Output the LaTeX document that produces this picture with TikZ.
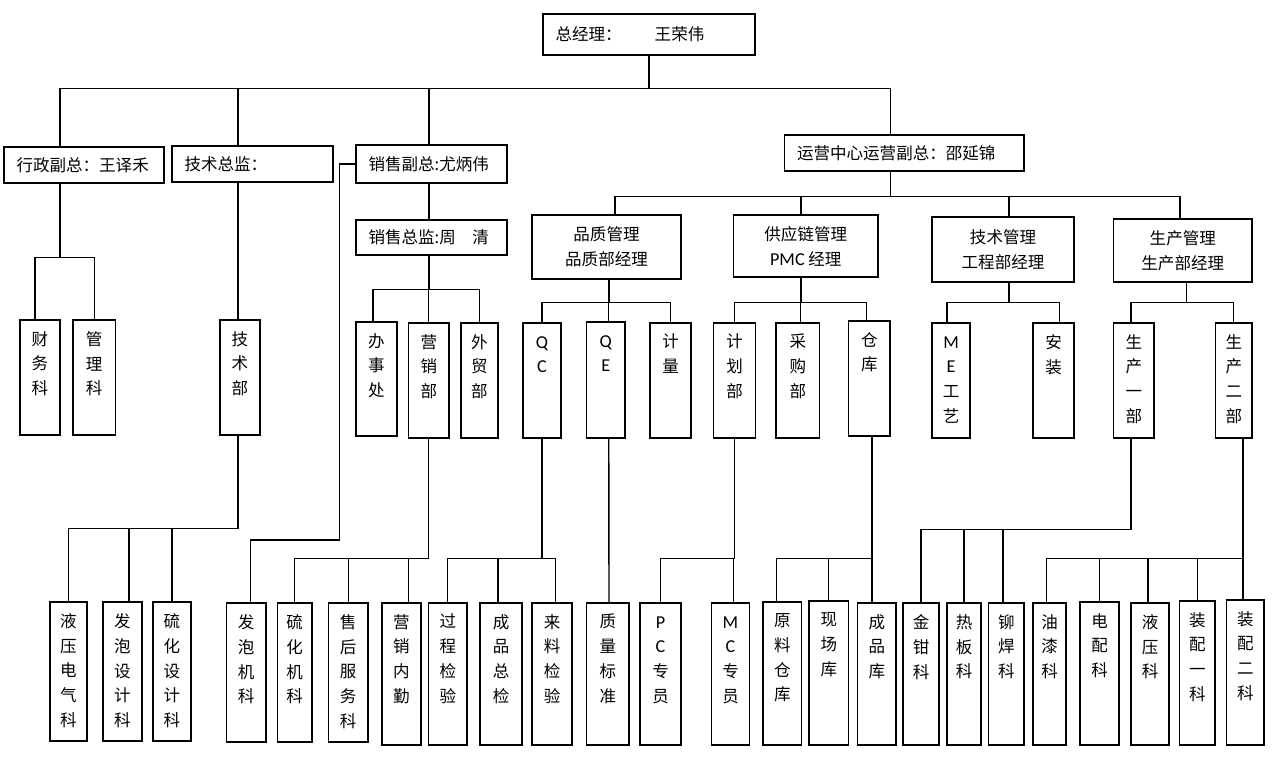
\documentclass[tikz,border=0pt]{standalone}
\usepackage{fontspec}
\newfontfamily\zhfont{Noto Sans CJK SC}
\newfontfamily\enfont{Carlito}[Scale=1.1]
\newcommand\zhsize{\fontsize{9.4}{14.2}\selectfont}
\newcommand\enl[1]{{\enfont #1}\vphantom{中}}

\begin{document}
\begin{tikzpicture}[x=0.02cm, y=-0.02cm, font=\zhfont\zhsize,
  ln/.style={line width=0.8pt},
  box/.style 2 args={rectangle, draw, line width=0.8pt, minimum width=#1*0.02cm,
              minimum height=#2*0.02cm, inner sep=0pt, align=center},
  vt/.style={anchor=north, align=center, inner sep=0pt, yshift=-0.23cm},
  ht/.style={anchor=west, inner sep=0pt, xshift=0.26cm},
  vbox/.style n args={3}{box={#1}{#2}, label={[vt]north:{#3}}},
]
\useasboundingbox (0,0) rectangle (1280,769);
% ---- top management
\node[box={212}{41}, label={[ht]west:{总经理：\quad\quad 王荣伟}}] (gm) at (649,34.5) {};
\node[box={160}{36}, label={[ht]west:{行政副总：王译禾}}] (xz) at (84,165) {};
\node[box={161}{36}, label={[ht]west:{技术总监：}}] (js) at (252.5,164) {};
\node[box={151}{38}, label={[ht]west:{销售副总:尤炳伟}}] (xs) at (431.5,164) {};
\node[box={151}{35}, label={[ht]west:{销售总监:周\quad 清}}] (xj) at (431.5,237.5) {};
\node[box={239.5}{36}, label={[ht]west:{运营中心运营副总：邵延锦}}] (yy) at (904.25,153) {};
% ---- operations managers
\node[box={149}{64}] (pz) at (606.5,247) {品质管理\\品质部经理};
\node[box={144.5}{62}] (gy) at (805.75,246) {供应链管理\\{\enfont PMC} 经理};
\node[box={142}{65}] (jg) at (1003,249.5) {技术管理\\工程部经理};
\node[box={138.5}{63}] (sc) at (1182.75,250.5) {生产管理\\生产部经理};
% ---- departments
\node[vbox={40}{115}{财\\务\\科}] (cw) at (40,377.5) {};
\node[vbox={42.5}{115}{管\\理\\科}] (gl) at (94.25,377.5) {};
\node[vbox={40}{115}{技\\术\\部}] (jsb) at (240,377.5) {};
\node[vbox={41}{114}{办\\事\\处}] (bsc) at (376.5,379) {};
\node[vbox={40.5}{115}{营\\销\\部}] (yxb) at (428.75,380.5) {};
\node[vbox={37}{115}{外\\贸\\部}] (wmb) at (479.5,380.5) {};
\node[vbox={38}{115}{\enl{Q}\\\enl{C}}] (qc) at (542,380.5) {};
\node[vbox={38.5}{116}{\enl{Q}\\\enl{E}}] (qe) at (605.75,380) {};
\node[vbox={41}{115}{计\\量}] (jl) at (670.5,380.5) {};
\node[vbox={42}{115}{计\\划\\部}] (jhb) at (734.5,380.5) {};
\node[vbox={43.5}{115}{采\\购\\部}] (cgb) at (797.75,380.5) {};
\node[vbox={41.5}{115}{仓\\库}] (ck) at (869.25,378.5) {};
\node[vbox={38}{115}{\enl{M}\\\enl{E}\\工\\艺}] (me) at (951,380.5) {};
\node[vbox={41}{115}{安\\装}] (az) at (1053.5,380.5) {};
\node[vbox={40.5}{115}{生\\产\\一\\部}] (sc1) at (1133.75,380.5) {};
\node[vbox={36.5}{115}{生\\产\\二\\部}] (sc2) at (1233.75,380.5) {};
% ---- sections
\node[vbox={37}{139}{液\\压\\电\\气\\科}] (yqdq) at (68.5,671.5) {};
\node[vbox={39}{139}{发\\泡\\设\\计\\科}] (fpsj) at (122.5,671.5) {};
\node[vbox={38}{139}{硫\\化\\设\\计\\科}] (lhsj) at (172,671.5) {};
\node[vbox={39.5}{139}{发\\泡\\机\\科}] (fpjk) at (246.25,672.5) {};
\node[vbox={34.5}{139}{硫\\化\\机\\科}] (lhjk) at (294.75,672.5) {};
\node[vbox={39.5}{139}{售\\后\\服\\务\\科}] (shfw) at (348.25,672.5) {};
\node[vbox={39}{142}{营\\销\\内\\勤}] (yxnq) at (401.5,674) {};
\node[vbox={38.5}{142}{过\\程\\检\\验}] (gcjy) at (447.75,674) {};
\node[vbox={42}{142}{成\\品\\总\\检}] (cpzj) at (501,674) {};
\node[vbox={40}{142}{来\\料\\检\\验}] (lljy) at (552,674) {};
\node[vbox={42.5}{142}{质\\量\\标\\准}] (zlbz) at (607.75,674) {};
\node[vbox={41}{142}{\enl{P}\\\enl{C}\\专\\员}] (pc) at (660.5,674) {};
\node[vbox={38}{142}{\enl{M}\\\enl{C}\\专\\员}] (mc) at (730.5,674) {};
\node[vbox={38.6}{143}{原\\料\\仓\\库}] (ylck) at (782.3,673.5) {};
\node[vbox={39.5}{144}{现\\场\\库}] (xcku) at (828.75,673) {};
\node[vbox={38.5}{142}{成\\品\\库}] (cpk) at (876.75,674) {};
\node[vbox={36}{142}{金\\钳\\科}] (jq) at (921,674) {};
\node[vbox={34}{142}{热\\板\\科}] (rb) at (964,674) {};
\node[vbox={35.4}{142}{铆\\焊\\科}] (mh) at (1006.3,674) {};
\node[vbox={33}{142}{油\\漆\\科}] (yq) at (1049.5,674) {};
\node[vbox={39}{143}{电\\配\\科}] (dp) at (1099.5,673.5) {};
\node[vbox={38}{142}{液\\压\\科}] (yyk) at (1150,674) {};
\node[vbox={35.4}{144}{装\\配\\一\\科}] (zp1) at (1197.3,673) {};
\node[vbox={37.5}{145}{装\\配\\二\\科}] (zp2) at (1245.25,672.5) {};
% ---- connectors: general manager
\draw[ln] (gm.south) -- ++(0,33) -| ([shift={(-24,0)}]xz.north);
\draw[ln] (gm.south) -- ++(0,33) -| ([shift={(-14.5,0)}]js.north);
\draw[ln] (gm.south) -- ++(0,33) -| ([shift={(-2.5,0)}]xs.north);
\draw[ln] (gm.south) -- ++(0,33) -| ([shift={(-14,0)}]yy.north);
% ---- admin / tech
\draw[ln] ([shift={(-24,0)}]xz.south) -- ++(0,74) -| ([shift={(-5,0)}]cw.north);
\draw[ln] ([shift={(-24,0)}]xz.south) -- ++(0,74) -| (gl.north);
\draw[ln] ([shift={(-14.5,0)}]js.south) -- ([shift={(-2,0)}]jsb.north);
\draw[ln] ([shift={(-2,0)}]jsb.south) -- ++(0,93) -| (yqdq.north);
\draw[ln] ([shift={(-2,0)}]jsb.south) -- ++(0,93) -| ([shift={(6.5,0)}]fpsj.north);
\draw[ln] ([shift={(-2,0)}]jsb.south) -- ++(0,93) -| (lhsj.north);
% ---- sales
\draw[ln] ([shift={(-2.5,0)}]xs.south) -- ([shift={(-2.5,0)}]xj.north);
\draw[ln] (xs.west) -- ++(-16,0) -- ++(0,376) -| ([shift={(4,0)}]fpjk.north);
\draw[ln] ([shift={(-2.5,0)}]xj.south) -- ++(0,34) -| ([shift={(-3.5,0)}]bsc.north);
\draw[ln] ([shift={(-2.5,0)}]xj.south) -- ++(0,34) -| (yxb.north);
\draw[ln] ([shift={(-2.5,0)}]xj.south) -- ++(0,34) -| (wmb.north);
\draw[ln] (yxb.south) -- ++(0,120) -| (lhjk.north);
\draw[ln] (yxb.south) -- ++(0,120) -| (shfw.north);
\draw[ln] (yxb.south) -- ++(0,120) -| ([shift={(7,0)}]yxnq.north);
% ---- operations centre
\draw[ln] ([shift={(-14,0)}]yy.south) -- ++(0,25) -| ([shift={(8.5,0)}]pz.north);
\draw[ln] ([shift={(-14,0)}]yy.south) -- ++(0,25) -| ([shift={(-4.75,0)}]gy.north);
\draw[ln] ([shift={(-14,0)}]yy.south) -- ++(0,25) -| ([shift={(6,0)}]jg.north);
\draw[ln] ([shift={(-14,0)}]yy.south) -- ++(0,25) -| ([shift={(-2.75,0)}]sc.north);
% quality
\draw[ln] ([shift={(2.5,0)}]pz.south) -- ++(0,23) -| (qc.north);
\draw[ln] ([shift={(2.5,0)}]pz.south) -- ++(0,23) -| ([shift={(3,0)}]qe.north);
\draw[ln] ([shift={(2.5,0)}]pz.south) -- ++(0,23) -| (jl.north);
\draw[ln] (qc.south) -- ++(0,120) -| (gcjy.north);
\draw[ln] (qc.south) -- ++(0,120) -| ([shift={(-3,0)}]cpzj.north);
\draw[ln] (qc.south) -- ++(0,120) -| ([shift={(3.5,0)}]lljy.north);
\draw[ln] ([shift={(3,0)}]qe.south) -- ([shift={(1.25,0)}]zlbz.north);
% supply chain
\draw[ln] ([shift={(-4.75,0)}]gy.south) -- ++(0,25) -| (jhb.north);
\draw[ln] ([shift={(-4.75,0)}]gy.south) -- ++(0,25) -| ([shift={(3,0)}]cgb.north);
\draw[ln] ([shift={(-4.75,0)}]gy.south) -- ++(0,25) -| ([shift={(-3,0)}]ck.north);
\draw[ln] (jhb.south) -- ++(0,120) -| (pc.north);
\draw[ln] (jhb.south) -- ++(0,120) -| ([shift={(3,0)}]mc.north);
\draw[ln] ([shift={(2.75,0)}]ck.south) -- ++(0,122) -| ([shift={(-6,0)}]ylck.north);
\draw[ln] ([shift={(2.75,0)}]ck.south) -- ++(0,122) -| (xcku.north);
\draw[ln] ([shift={(2.75,0)}]ck.south) -- ++(0,122) -| ([shift={(-4.75,0)}]cpk.north);
% engineering
\draw[ln] ([shift={(6,0)}]jg.south) -- ++(0,20) -| ([shift={(-4,0)}]me.north);
\draw[ln] ([shift={(6,0)}]jg.south) -- ++(0,20) -| ([shift={(6,0)}]az.north);
% production
\draw[ln] ([shift={(4,0)}]sc.south) -- ++(0,20) -| ([shift={(-2.75,0)}]sc1.north);
\draw[ln] ([shift={(4,0)}]sc.south) -- ++(0,20) -| (sc2.north);
\draw[ln] ([shift={(-2.75,0)}]sc1.south) -- ++(0,91) -| (jq.north);
\draw[ln] ([shift={(-2.75,0)}]sc1.south) -- ++(0,91) -| (rb.north);
\draw[ln] ([shift={(-2.75,0)}]sc1.south) -- ++(0,91) -| ([shift={(-3.3,0)}]mh.north);
\draw[ln] ([shift={(9.25,0)}]sc2.south) -- ++(0,120) -| ([shift={(-3,0)}]yq.north);
\draw[ln] ([shift={(9.25,0)}]sc2.south) -- ++(0,120) -| (dp.north);
\draw[ln] ([shift={(9.25,0)}]sc2.south) -- ++(0,120) -| ([shift={(-2,0)}]yyk.north);
\draw[ln] ([shift={(9.25,0)}]sc2.south) -- ++(0,120) -| (zp1.north);
\draw[ln] ([shift={(9.25,0)}]sc2.south) -- ++(0,120) -| ([shift={(-2.25,0)}]zp2.north);
\end{tikzpicture}
\end{document}
